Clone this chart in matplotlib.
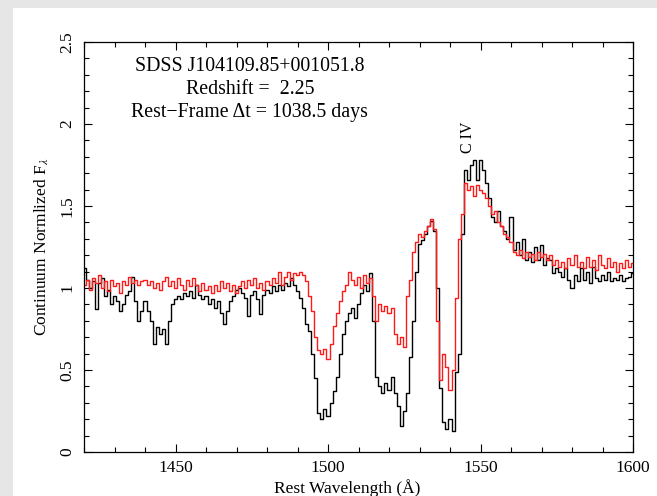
import numpy as np
import matplotlib
matplotlib.use("Agg")
import matplotlib.pyplot as plt
from matplotlib.patches import Rectangle
from matplotlib.ticker import MultipleLocator

plt.rcParams["font.family"] = ["Liberation Serif", "DejaVu Serif"]
plt.rcParams["mathtext.fontset"] = "stix"

# rest wavelength grid (Angstrom), 1 A bins
WAVE = np.arange(1420, 1601)

# continuum normalised flux, earlier epoch (black)
FLUX_BLACK = [
    1.12, 1.05, 1.00, 1.04, 0.87, 1.03, 1.06, 0.95, 0.99, 0.90,
    0.95, 0.92, 0.86, 0.90, 0.96, 0.98, 1.07, 0.92, 0.80, 0.86,
    0.92, 0.86, 0.80, 0.66, 0.76, 0.72, 0.75, 0.66, 0.80, 0.90,
    0.93, 0.95, 0.93, 0.97, 0.95, 0.98, 0.94, 1.02, 0.96, 0.93,
    0.95, 0.90, 0.93, 0.88, 0.92, 0.85, 0.78, 0.86, 0.92, 0.95,
    0.99, 1.00, 0.97, 0.94, 0.83, 0.96, 0.98, 0.93, 0.84, 0.96,
    0.99, 0.97, 1.01, 0.98, 1.02, 0.99, 1.03, 1.01, 1.06, 1.02,
    0.98, 0.94, 0.88, 0.78, 0.74, 0.60, 0.45, 0.24, 0.20, 0.26,
    0.22, 0.30, 0.37, 0.46, 0.60, 0.72, 0.80, 0.85, 0.88, 0.82,
    0.90, 0.97, 1.02, 0.98, 1.09, 0.80, 0.46, 0.40, 0.36, 0.42,
    0.38, 0.46, 0.36, 0.28, 0.16, 0.25, 0.36, 0.58, 0.80, 1.10,
    1.27, 1.29, 1.33, 1.38, 1.41, 1.35, 1.00, 0.39, 0.18, 0.14,
    0.20, 0.13, 0.49, 0.60, 1.33, 1.72, 1.66, 1.75, 1.78, 1.66,
    1.78, 1.72, 1.64, 1.55, 1.43, 1.40, 1.47, 1.38, 1.35, 1.30,
    1.43, 1.23, 1.28, 1.20, 1.30, 1.17, 1.22, 1.16, 1.25, 1.17,
    1.26, 1.14, 1.18, 1.17, 1.09, 1.12, 1.10, 1.07, 1.12, 1.05,
    1.00, 1.08, 1.04, 1.12, 1.05, 1.10, 1.03, 1.13, 1.06, 1.04,
    1.08, 1.05, 1.10, 1.04, 1.06, 1.05, 1.08, 1.04, 1.06, 1.07,
    1.09,
]

# later epoch (red)
FLUX_RED = [
    1.02, 1.05, 0.99, 1.06, 1.03, 1.08, 1.00, 1.04, 0.98, 1.05,
    1.01, 1.03, 0.97, 1.04, 1.02, 1.07, 1.03, 1.05, 1.02, 1.04,
    1.05, 1.02, 1.04, 1.00, 1.03, 0.99, 1.04, 1.07, 1.01, 1.04,
    1.00, 1.06, 1.02, 0.99, 1.05, 1.01, 1.06, 1.02, 0.98, 1.03,
    0.99, 1.01, 0.97, 1.02, 0.98, 1.04, 1.00, 1.03, 0.98, 1.02,
    0.97, 1.01, 1.04, 1.00, 1.05, 1.02, 1.06, 1.00, 1.03, 0.99,
    1.04, 1.02, 1.06, 1.03, 1.10, 1.02, 1.07, 1.10, 1.05, 1.09,
    1.08, 1.10, 1.08, 1.04, 0.95, 0.86, 0.70, 0.62, 0.60, 0.63,
    0.57, 0.66, 0.77, 0.85, 0.92, 0.98, 1.02, 1.10, 1.05, 1.02,
    1.07, 1.00, 1.08, 1.03, 1.06, 0.95, 0.80, 0.90, 0.86, 0.89,
    0.85, 0.88, 0.72, 0.66, 0.70, 0.64, 0.95, 1.05, 1.22, 1.28,
    1.33, 1.31, 1.35, 1.38, 1.42, 1.36, 0.80, 0.44, 0.60, 0.52,
    0.38, 0.50, 0.94, 1.30, 1.45, 1.64, 1.60, 1.62, 1.56, 1.63,
    1.60, 1.58, 1.55, 1.50, 1.45, 1.47, 1.40, 1.38, 1.33, 1.31,
    1.28, 1.22, 1.20, 1.23, 1.18, 1.22, 1.19, 1.21, 1.17, 1.22,
    1.19, 1.21, 1.17, 1.20, 1.14, 1.17, 1.13, 1.16, 1.12, 1.18,
    1.14, 1.20, 1.13, 1.16, 1.12, 1.19, 1.13, 1.17, 1.11, 1.20,
    1.14, 1.12, 1.18, 1.13, 1.16, 1.10, 1.15, 1.12, 1.17, 1.13,
    1.15,
]

INFO_LINES = ["SDSS J104109.85+001051.8",
              "Redshift =  2.25",
              "Rest\u2212Frame \u0394t = 1038.5 days"]


fig = plt.figure(figsize=(6.57, 4.96), dpi=100, facecolor="#e6e6e6")
# white page on the grey background
fig.patches.append(Rectangle((13 / 657, 0), 1, 1 - 8 / 496, transform=fig.transFigure,
                             facecolor="white", edgecolor="none", zorder=-1))

ax = fig.add_axes([84 / 657, 44 / 496, 549 / 657, 410 / 496])
ax.set_facecolor("white")

ax.plot(WAVE, FLUX_BLACK, drawstyle="steps-mid", color="black", lw=1.0)
ax.plot(WAVE, FLUX_RED, drawstyle="steps-mid", color="#ff1a1a", lw=1.0)

ax.set_xlim(1420, 1600)
ax.set_ylim(0, 2.5)
ax.xaxis.set_major_locator(MultipleLocator(50))
ax.xaxis.set_minor_locator(MultipleLocator(10))
ax.yaxis.set_major_locator(MultipleLocator(0.5))
ax.yaxis.set_minor_locator(MultipleLocator(0.1))
ax.set_yticks([0, 0.5, 1, 1.5, 2, 2.5])
ax.set_yticklabels(["0", "0.5", "1", "1.5", "2", "2.5"], rotation=90, va="center")
ax.tick_params(which="both", direction="in", top=True, right=True, labelsize=12.5, width=0.8)
ax.tick_params(which="major", length=6, pad=6)
ax.tick_params(which="minor", length=3.5)
for s in ax.spines.values():
    s.set_linewidth(0.9)

ax.set_xlabel("Rest Wavelength (\u00c5)", fontsize=12.5, labelpad=2)
ax.xaxis.set_label_coords(0.479, -0.065)
ax.set_ylabel(r"Continuum Normlized F$_{\lambda}$", fontsize=12.5, labelpad=6)

for yv, line in zip([2.35, 2.21, 2.07], INFO_LINES):
    ax.text(1474.4, yv, line, ha="center", va="center", fontsize=14.3)
ax.text(1545.9, 1.92, "C IV", rotation=90, ha="center", va="center", fontsize=11.5)

fig.savefig("out.png", dpi=100, facecolor=fig.get_facecolor())
